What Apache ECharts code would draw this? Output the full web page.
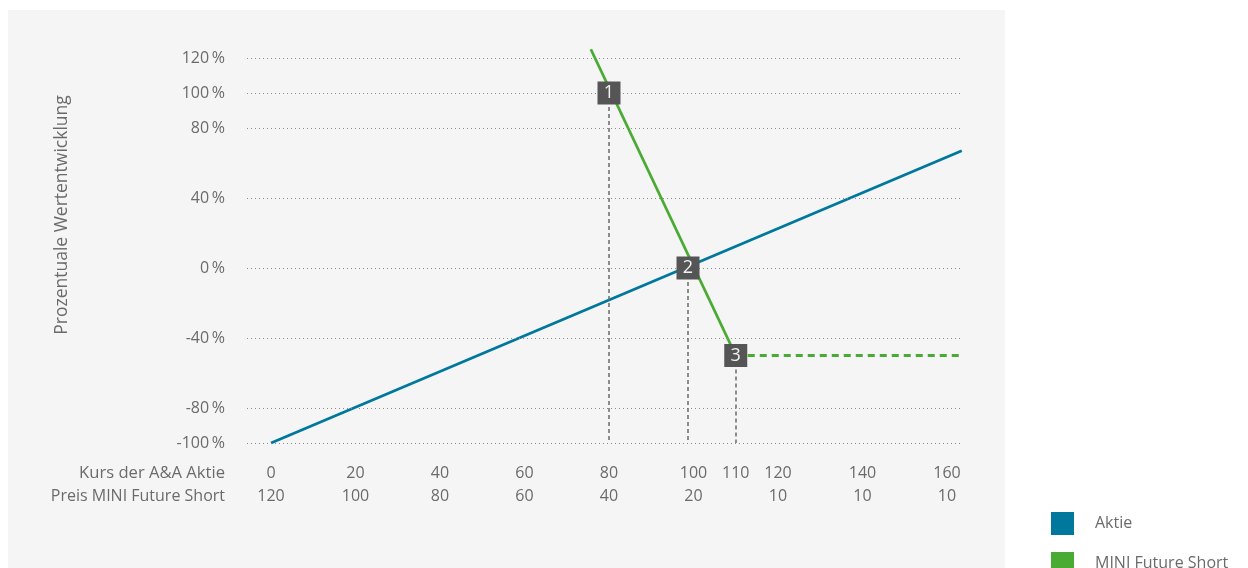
<!DOCTYPE html>
<html><head><meta charset="utf-8">
<script src="https://cdn.jsdelivr.net/npm/echarts@6/dist/echarts.min.js"></script>
<style>html,body{margin:0;padding:0;background:#fff}#c{width:1248px;height:568px}</style>
</head><body><div id="c"></div>
<script>
// ---- data ----
const kursTicks = [0, 20, 40, 60, 80, 100, 110, 120, 140, 160];
const preisTicks = [120, 100, 80, 60, 40, 20, '', 10, 10, 10];
const yTicks = [120, 100, 80, 40, 0, -40, -80, -100];
const aktie = [[0, -100], [163.5, 67]];
const miniShort = [[75.7, 125], [110, -50]];
const miniKnockout = [[110, -50], [163.5, -50]];
const markerX = [80, 98.7, 110];
const markerY = [100, 0, -50];
const markerLabels = ['1', '2', '3'];
const xAxisTitles = ['Kurs der A&A Aktie', 'Preis MINI Future Short'];
const yAxisTitle = 'Prozentuale Wertentwicklung';

const FONT = '"Open Sans", sans-serif';
const TXT = '#6b6b6b';
const BLUE = '#00789e';
const GREEN = '#4aab33';

const chart = echarts.init(document.getElementById('c'));
chart.setOption({
  animation: false,
  textStyle: { fontFamily: FONT },
  graphic: [
    { type: 'rect', z: -10, silent: true, shape: { x: 8, y: 10, width: 997, height: 570 }, style: { fill: '#f5f5f5' } },
    { type: 'text', x: 62, y: 215, rotation: Math.PI / 2, style: { text: yAxisTitle, fill: TXT, font: '17.5px ' + FONT, textAlign: 'center', textVerticalAlign: 'middle' } },
    { type: 'text', x: 225, y: 473, style: { text: xAxisTitles[0], fill: TXT, font: '16.6px ' + FONT, textAlign: 'right', textVerticalAlign: 'middle' } },
    { type: 'text', x: 225, y: 496, style: { text: xAxisTitles[1], fill: TXT, font: '16px ' + FONT, textAlign: 'right', textVerticalAlign: 'middle' } }
  ],
  legend: {
    orient: 'vertical', left: 1046, top: 507, height: 150,
    itemWidth: 23, itemHeight: 23, itemGap: 17,
    icon: 'rect',
    data: ['Aktie', 'MINI Future Short'],
    textStyle: { color: TXT, fontSize: 16, fontFamily: FONT, padding: [0, 0, 0, 16] }
  },
  grid: { left: 247, right: 286, top: 58, bottom: 125 },
  xAxis: {
    type: 'value', min: -5.68, max: 163.55,
    axisLine: { show: false }, axisTick: { show: false }, splitLine: { show: false },
    axisLabel: {
      customValues: kursTicks,
      showMinLabel: true, showMaxLabel: true, hideOverlap: false,
      margin: 19, lineHeight: 23, color: TXT, fontSize: 16, fontFamily: FONT,
      formatter: v => { const i = kursTicks.indexOf(v); return i < 0 ? '' : v + '\n' + preisTicks[i]; }
    }
  },
  yAxis: {
    type: 'value', min: -100, max: 120,
    axisLine: { show: false }, axisTick: { show: false }, splitLine: { show: false },
    axisLabel: {
      customValues: yTicks, showMinLabel: true, showMaxLabel: true,
      margin: 22, color: TXT, fontSize: 16, fontFamily: FONT,
      formatter: v => v + '\u2009%'
    }
  },
  series: [
    {
      type: 'line', name: 'grid', data: [], silent: true,
      markLine: {
        silent: true, symbol: 'none', label: { show: false },
        lineStyle: { color: '#8a8a8a', width: 1, type: [1, 3] },
        data: yTicks.map(v => ({ yAxis: v }))
      }
    },
    {
      type: 'line', name: 'guides', data: [], silent: true, z: 1,
      markLine: {
        silent: true, symbol: 'none', label: { show: false },
        lineStyle: { color: '#6a6a6a', width: 1.5, type: [4, 3] },
        data: markerX.map((x, i) => [{ coord: [x, markerY[i]] }, { coord: [x, -100] }])
      }
    },
    {
      type: 'line', name: 'Aktie', data: aktie, symbol: 'none', z: 3, clip: false,
      lineStyle: { color: BLUE, width: 2.8 }, itemStyle: { color: BLUE }
    },
    {
      type: 'line', name: 'MINI Future Short', data: miniShort, symbol: 'none', z: 3, clip: false,
      lineStyle: { color: GREEN, width: 2.8 }, itemStyle: { color: GREEN }
    },
    {
      type: 'line', name: 'MINI Future Short', data: miniKnockout, symbol: 'none', z: 3, clip: false,
      lineStyle: { color: GREEN, width: 2.8, type: [7, 5] }, itemStyle: { color: GREEN }
    },
    {
      type: 'scatter', name: 'marker', z: 5, symbol: 'rect', symbolSize: 23,
      data: markerX.map((x, i) => ({ value: [x, markerY[i]], label: { formatter: markerLabels[i] } })),
      itemStyle: { color: '#555555', opacity: 1 },
      label: { show: true, position: 'inside', color: '#f2f2f2', fontSize: 18, fontFamily: FONT }
    }
  ]
});
</script></body></html>
